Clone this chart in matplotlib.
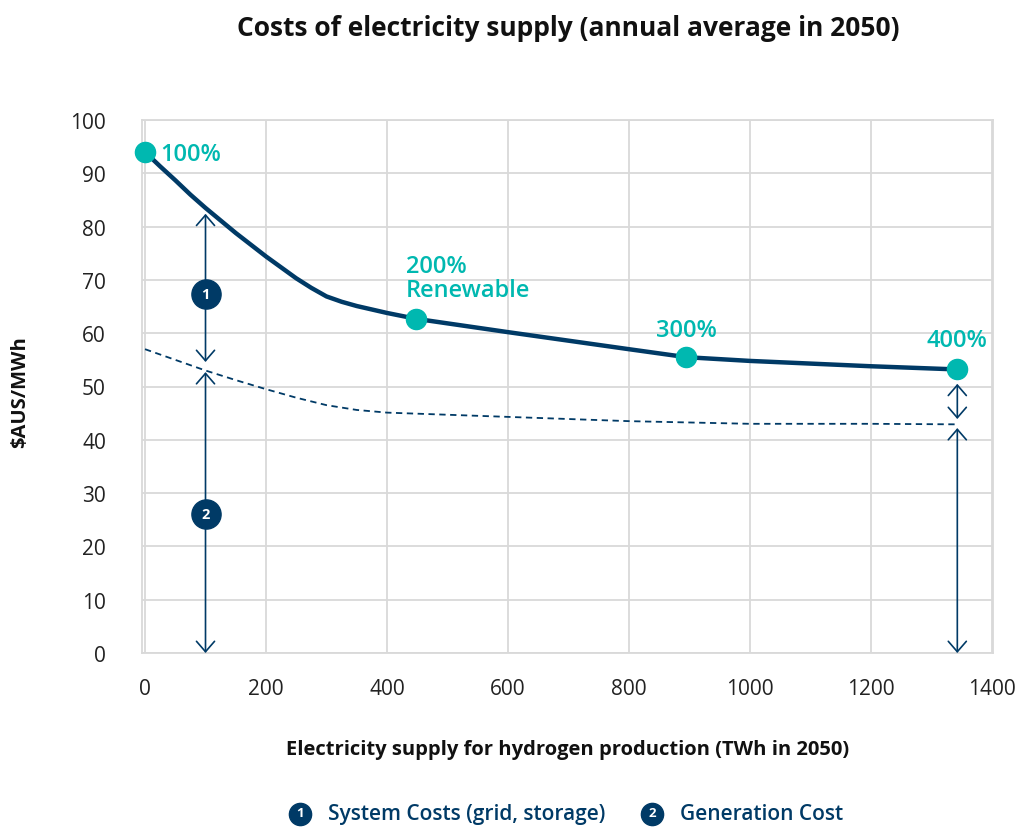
import matplotlib
matplotlib.use("Agg")
import matplotlib.pyplot as plt

plt.rcParams['font.family'] = ['Open Sans', 'DejaVu Sans']

NAVY = '#003A66'
TEAL = '#00B8B0'
GRID = '#D9D9D9'

# Total cost curve (solid)
total_x = [0, 25, 50, 75, 100, 150, 200, 250, 275, 300, 325, 350, 400, 448,
           600, 800, 895, 1000, 1200, 1343]
total_y = [94, 91.3, 88.7, 86, 83.5, 78.8, 74.4, 70.3, 68.5, 66.9, 65.9, 65.1, 63.8, 62.7,
           60.2, 57, 55.5, 54.8, 53.8, 53.2]

# Generation cost curve (dashed)
gen_x = [0, 50, 100, 150, 200, 250, 300, 350, 400, 600, 800, 1000, 1200, 1343]
gen_y = [57, 55, 53, 51.2, 49.5, 47.9, 46.5, 45.6, 45.1, 44.3, 43.5, 43, 43, 42.9]

# Highlighted scenario points
pt_x = [0, 448, 895, 1343]
pt_y = [94, 62.7, 55.5, 53.2]
pt_labels = ['100%', '200%\nRenewable', '300%', '400%']

# Arrow annotations at two supply levels: system-cost span and generation span
arrow_x = [100, 1343]
sys_lo = [54.6, 43.9]
sys_hi = [82.4, 50.5]
gen_hi = [52.7, 42.2]

xticks = [0, 200, 400, 600, 800, 1000, 1200, 1400]
yticks = list(range(0, 101, 10))

fig = plt.figure(figsize=(10.19, 8.28), dpi=100)
ax = fig.add_axes([142/1019, 1-654/828, (993-142)/1019, (654-121)/828])
ax.set_xlim(-5, 1402)
ax.set_ylim(0, 100)
ax.set_xticks(xticks)
ax.set_yticks(yticks)
ax.grid(True, color=GRID, linewidth=1.3)
ax.set_axisbelow(True)
for s in ax.spines.values():
    s.set_color(GRID)
    s.set_linewidth(1.3)
ax.tick_params(length=0, labelsize=15, colors='#222222')
ax.tick_params(axis='y', pad=26)
ax.tick_params(axis='x', pad=18)

ax.plot(gen_x, gen_y, color=NAVY, lw=1.3, ls=(0, (3.5, 2.5)))
ax.plot(total_x, total_y, color=NAVY, lw=3.2, solid_capstyle='round',
        solid_joinstyle='round')

# arrows
aprops = dict(arrowstyle='<->,head_length=0.75,head_width=0.65', color=NAVY, lw=1.2,
              shrinkA=0, shrinkB=0, mutation_scale=10)
for i, x in enumerate(arrow_x):
    ax.annotate('', xy=(x, sys_lo[i]), xytext=(x, sys_hi[i]), arrowprops=aprops)
    ax.annotate('', xy=(x, 0), xytext=(x, gen_hi[i]), arrowprops=aprops)

# numbered circles
for num, yv in [('1', 67.3), ('2', 26.1)]:
    ax.plot([arrow_x[0]], [yv], 'o', ms=21, color=NAVY, zorder=5)
    ax.text(arrow_x[0], yv, num, color='white', fontsize=10.5, fontweight='bold',
            ha='center', va='center', zorder=6)

ax.plot(pt_x, pt_y, 'o', ms=14.5, color=TEAL, zorder=7, clip_on=False)
lab_kw = dict(color=TEAL, fontsize=17, fontweight='semibold')
ax.text(pt_x[0] + 25, pt_y[0] - 0.3, pt_labels[0], ha='left', va='center', **lab_kw)
ax.text(pt_x[1] - 17, pt_y[1] + 3.2, pt_labels[1], ha='left', va='bottom',
        linespacing=1.0, **lab_kw)
ax.text(pt_x[2], pt_y[2] + 2.8, pt_labels[2], ha='center', va='bottom', **lab_kw)
ax.text(pt_x[3], pt_y[3] + 3.2, pt_labels[3], ha='center', va='bottom', **lab_kw)

fig.text(568/1019, 1-28/828, 'Costs of electricity supply (annual average in 2050)',
         ha='center', va='center', fontsize=19, fontweight='bold', color='#111111')
fig.text(20/1019, 1-392/828, '$AUS/MWh', rotation=90, ha='center', va='center',
         fontsize=14.5, fontweight='bold', color='#111111')
fig.text(568/1019, 1-750/828, 'Electricity supply for hydrogen production (TWh in 2050)',
         ha='center', va='center', fontsize=14.5, fontweight='bold', color='#111111')

# legend
leg_items = [('1', 'System Costs (grid, storage)', 300), ('2', 'Generation Cost', 652)]
for num, txt, xp in leg_items:
    fig.lines.append(plt.Line2D([xp/1019], [1-815/828], marker='o', ms=16, color=NAVY,
                                transform=fig.transFigure, figure=fig))
    fig.text(xp/1019, 1-814/828, num, color='white', fontsize=9.5, fontweight='bold',
             ha='center', va='center')
    fig.text((xp+28)/1019, 1-815/828, txt, color=NAVY, fontsize=15,
             fontweight='semibold', ha='left', va='center')

fig.savefig('out.png', dpi=100)
